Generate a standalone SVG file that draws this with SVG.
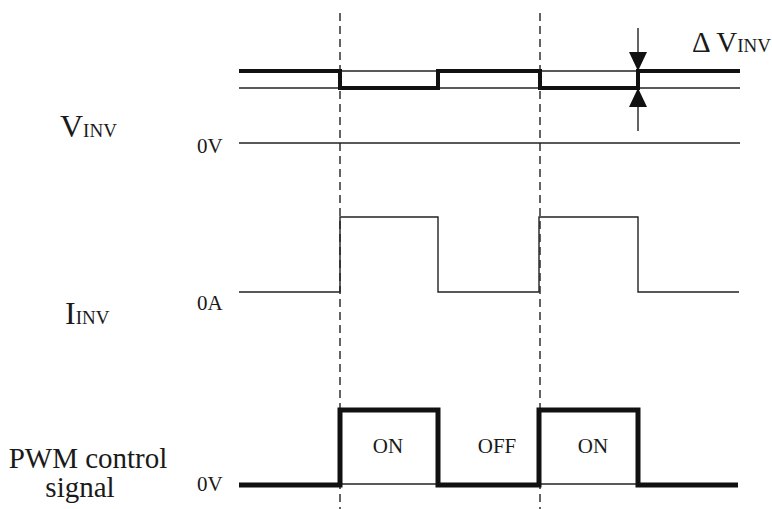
<svg xmlns="http://www.w3.org/2000/svg" width="772" height="509" viewBox="0 0 772 509">
<style>
text{font-family:"Liberation Serif","Times New Roman",serif;fill:#1a1a1a}
.thin{fill:none;stroke:#222;stroke-width:1.4}
.thick{fill:none;stroke:#111;stroke-width:4;stroke-linejoin:miter}
.thicker{fill:none;stroke:#111;stroke-width:5;stroke-linejoin:miter}
.dash{fill:none;stroke:#222;stroke-width:1.4;stroke-dasharray:8,5}
.big{font-size:32px}
.sub{font-size:19px}
.lab{font-size:21px}
.pwm{font-size:29px}
</style>
<rect width="772" height="509" fill="#fff"/>
<g id="guides">
<line class="dash" x1="340" y1="13" x2="340" y2="509"/>
<line class="dash" x1="540" y1="13" x2="540" y2="509"/>
</g>
<g id="vinv">
<line class="thin" x1="239" y1="71" x2="740" y2="71"/>
<line class="thin" x1="239" y1="88" x2="740" y2="88"/>
<line class="thin" x1="239" y1="143" x2="740" y2="143"/>
<path class="thick" d="M239,71 H340 V88 H438 V71 H540 V88 H638 V71 H740"/>
<text x="60" y="137"><tspan class="big">V</tspan><tspan class="sub">INV</tspan></text>
<text class="lab" x="197" y="153">0V</text>
</g>
<g id="delta">
<line class="thin" x1="638" y1="28" x2="638" y2="60"/>
<polygon points="638,71 629,52 647,52" fill="#111"/>
<line class="thin" x1="638" y1="98" x2="638" y2="131"/>
<polygon points="638,88 629,107 647,107" fill="#111"/>
<text x="692" y="52"><tspan style="font-size:29px">Δ V</tspan><tspan style="font-size:19px">INV</tspan></text>
</g>
<g id="iinv">
<path class="thin" d="M239,292 H340 V217 H438 V292 H539 V217 H638 V292 H739"/>
<text x="65" y="324"><tspan class="big">I</tspan><tspan class="sub">INV</tspan></text>
<text class="lab" x="197" y="310">0A</text>
</g>
<g id="pwm">
<line class="thin" x1="239" y1="484" x2="738" y2="484"/>
<path class="thicker" d="M239,485 H340 V410 H438 V485 H539 V410 H638 V485 H738"/>
<text class="pwm" x="88" y="468" text-anchor="middle">PWM control</text>
<text class="pwm" x="80" y="497" text-anchor="middle">signal</text>
<text class="lab" x="197" y="491">0V</text>
<text class="lab" x="388" y="453" text-anchor="middle">ON</text>
<text class="lab" x="497" y="453" text-anchor="middle">OFF</text>
<text class="lab" x="593" y="453" text-anchor="middle">ON</text>
</g>
</svg>
